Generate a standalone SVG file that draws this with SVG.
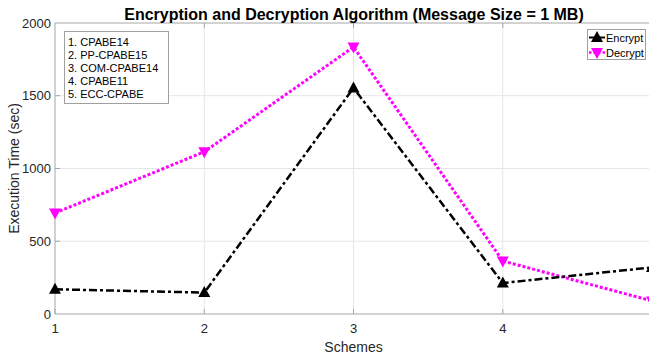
<svg xmlns="http://www.w3.org/2000/svg" width="649" height="360" viewBox="0 0 649 360">
  <style>
    .grid { stroke: #e6e6e6; stroke-width: 1; fill: none; }
    .axis { stroke: #a6a6a6; stroke-width: 1; fill: none; }
    .tick { font-family: "Liberation Sans", Arial, sans-serif; font-size: 13px; fill: #262626; }
    .lab { font-family: "Liberation Sans", Arial, sans-serif; font-size: 14px; fill: #262626; }
    .title { font-family: "Liberation Sans", Arial, sans-serif; font-size: 16px; font-weight: bold; fill: #000; }
    .leg { font-family: "Liberation Sans", Arial, sans-serif; font-size: 11px; fill: #000; }
    .enc { stroke: #000; stroke-width: 2.5; fill: none; stroke-dasharray: 8 3 3 3; stroke-linejoin: round; }
    .dec { stroke: #ff00ff; stroke-width: 3; fill: none; stroke-dasharray: 3 2; }
    .box { fill: #fff; stroke: #a0a0a0; stroke-width: 1; }
  </style>
  <defs>
    <path id="up" d="M0,-6.5 L6,4.5 L-6,4.5 Z" fill="#000"/>
    <path id="down" d="M0,6.5 L6,-4.5 L-6,-4.5 Z" fill="#ff00ff"/>
  </defs>

  <rect width="649" height="360" fill="#fff"/>

  <!-- plot grid: x = 1..5 every 149.25 px from 55, y = 0..2000 from 314 up to 23 -->
  <g id="grid">
    <path class="grid" d="M204.3,23V314 M353.5,23V314 M502.8,23V314 M55,241.2H652 M55,168.5H652 M55,95.7H652"/>
  </g>

  <g id="axes">
    <path class="axis" d="M55,23V314H652 M55,23H652"/>
    <!-- tick marks -->
    <path class="axis" d="M55,314v-5 M204.3,314v-5 M353.5,314v-5 M502.8,314v-5 M204.3,23v5 M353.5,23v5 M502.8,23v5 M55,241.2h5 M55,168.5h5 M55,95.7h5"/>
    <g class="tick" text-anchor="end">
      <text x="51" y="318.5">0</text>
      <text x="51" y="245.7">500</text>
      <text x="51" y="173">1000</text>
      <text x="51" y="100.2">1500</text>
      <text x="51" y="27.5">2000</text>
    </g>
    <g class="tick" text-anchor="middle">
      <text x="55" y="333">1</text>
      <text x="204.3" y="333">2</text>
      <text x="353.5" y="333">3</text>
      <text x="502.8" y="333">4</text>
    </g>
    <text class="lab" x="353.5" y="352" text-anchor="middle">Schemes</text>
    <text class="lab" transform="translate(19,168.5) rotate(-90)" text-anchor="middle">Execution Time (sec)</text>
  </g>

  <text class="title" x="354" y="20" text-anchor="middle">Encryption and Decryption Algorithm (Message Size = 1 MB)</text>

  <!-- data series -->
  <g id="series">
    <polyline class="dec" points="55,213 204.3,151.8 353.5,47 502.8,261 652,300.9"/>
    <polyline class="enc" points="55,289.3 204.3,292.6 353.5,88 502.8,283 652,267.4"/>
    <g id="dec-markers">
      <use href="#down" x="55" y="213"/>
      <use href="#down" x="204.3" y="151.8"/>
      <use href="#down" x="353.5" y="47"/>
      <use href="#down" x="502.8" y="261"/>
      <use href="#down" x="652" y="300.9"/>
    </g>
    <g id="enc-markers">
      <use href="#up" x="55" y="289.3"/>
      <use href="#up" x="204.3" y="292.6"/>
      <use href="#up" x="353.5" y="88"/>
      <use href="#up" x="502.8" y="283"/>
      <use href="#up" x="652" y="267.4"/>
    </g>
  </g>

  <!-- scheme key -->
  <g id="scheme-key">
    <rect class="box" x="64.5" y="31.5" width="104" height="72"/>
    <g class="leg" fill="#262626">
      <text x="68" y="46">1. CPABE14</text>
      <text x="68" y="59">2. PP-CPABE15</text>
      <text x="68" y="72">3. COM-CPABE14</text>
      <text x="68" y="85">4. CPABE11</text>
      <text x="68" y="98">5. ECC-CPABE</text>
    </g>
  </g>

  <!-- series legend -->
  <g id="series-legend">
    <rect class="box" x="587.5" y="29.5" width="58" height="30"/>
    <path d="M589,37.5H605" stroke="#000" stroke-width="2"/>
    <use href="#up" x="597" y="37.5"/>
    <path d="M589,52.5H605" stroke="#ff00ff" stroke-width="2.5" stroke-dasharray="2.5 2"/>
    <use href="#down" x="597" y="52.5"/>
    <text class="leg" x="606" y="41.5">Encrypt</text>
    <text class="leg" x="606" y="56.5">Decrypt</text>
  </g>
</svg>
